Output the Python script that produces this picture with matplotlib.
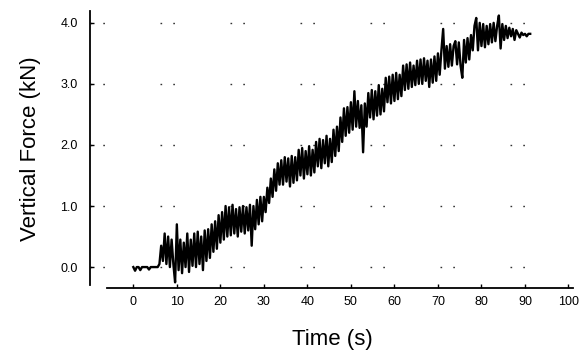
import matplotlib
matplotlib.use('Agg')
import matplotlib.pyplot as plt
import numpy as np

sample_dt = 0.4
force_kn = [
    0.00, -0.06, 0.00, 0.00, -0.05, 0.00, 0.00, 0.00, 0.00, -0.04, 0.00, 0.00, 0.00, 0.00, 0.00,
    0.05, 0.35, 0.10, 0.55, 0.05, 0.50, 0.00, 0.45, 0.05, -0.25,
    0.70, -0.05, 0.45, -0.10, 0.40, 0.00, 0.55, -0.08, 0.45, 0.02,
    0.55, 0.00, 0.58, 0.05, 0.50, -0.05, 0.60, 0.10, 0.62, 0.15,
    0.70, 0.25, 0.75, 0.30, 0.85, 0.40, 0.90, 0.45, 1.00, 0.50,
    0.98, 0.52, 1.02, 0.55, 0.95, 0.50, 0.98, 0.58, 1.00, 0.55,
    0.98, 0.60, 1.02, 0.35, 1.00, 0.62, 1.10, 0.70, 1.15, 0.75,
    1.15, 0.90, 1.30, 1.05, 1.45, 1.15, 1.60, 1.25, 1.70, 1.35,
    1.75, 1.35, 1.80, 1.40, 1.78, 1.32, 1.82, 1.38, 1.80, 1.42,
    1.92, 1.50, 1.95, 1.45, 1.90, 1.52, 1.98, 1.50, 1.92, 1.55,
    2.05, 1.65, 2.10, 1.62, 2.08, 1.70, 2.15, 1.65, 2.10, 1.72,
    2.25, 1.82, 2.30, 1.90, 2.45, 2.05, 2.60, 2.15, 2.62, 2.20,
    2.70, 2.25, 2.88, 2.30, 2.72, 2.28, 2.65, 1.88, 2.68, 2.30,
    2.85, 2.45, 2.90, 2.42, 2.88, 2.48, 2.98, 2.50, 2.92, 2.55,
    3.10, 2.70, 3.12, 2.68, 3.15, 2.72, 3.18, 2.75, 3.15, 2.80,
    3.30, 2.90, 3.32, 2.92, 3.35, 2.95, 3.30, 2.98, 3.38, 3.00,
    3.40, 3.00, 3.42, 3.05, 3.38, 2.95, 3.40, 3.02, 3.45, 3.05,
    3.50, 3.15, 3.55, 3.90, 3.25, 3.62, 3.28, 3.65, 3.30, 3.62,
    3.70, 3.32, 3.68, 3.30, 3.10, 3.72, 3.35, 3.75, 3.40, 3.80,
    3.55, 3.95, 4.08, 3.55, 4.00, 3.62, 3.98, 3.60, 3.95, 3.65,
    3.98, 3.68, 4.00, 3.70, 3.95, 4.12, 3.58, 3.98, 3.72, 3.95,
    3.75, 3.92, 3.78, 3.90, 3.72, 3.88, 3.82, 3.76, 3.84, 3.80,
    3.82, 3.78, 3.82, 3.82,
]
time_s = np.arange(len(force_kn)) * sample_dt

x_ticks = [0, 10, 20, 30, 40, 50, 60, 70, 80, 90, 100]
y_ticks = [0.0, 1.0, 2.0, 3.0, 4.0]
y_tick_labels = ['0.0', '1.0', '2.0', '3.0', '4.0']

plt.rcParams['font.family'] = ['Liberation Sans', 'DejaVu Sans']

fig = plt.figure(figsize=(5.86, 3.58), dpi=100)
ax = fig.add_axes([0.154, 0.196, 0.828, 0.776])

ax.plot(time_s, force_kn, color='black', linewidth=1.7)

ax.set_xlim(-9.9, 101.6)
ax.set_ylim(-0.34, 4.21)
ax.set_xticks(x_ticks)
ax.set_xticklabels([str(t) for t in x_ticks])
ax.set_yticks(y_ticks)
ax.set_yticklabels(y_tick_labels)

# sparse dotted horizontal grid (pairs of dots with long gaps)
ax.yaxis.grid(True, linestyle=(0, (1.2, 8, 1.2, 40)), color='#333333', linewidth=1.0)
ax.set_axisbelow(True)

for side in ['top', 'right']:
    ax.spines[side].set_visible(False)
ax.spines['bottom'].set_bounds(-6, 101)
ax.spines['left'].set_bounds(-0.3, 4.2)
for side in ['left', 'bottom']:
    ax.spines[side].set_linewidth(1.3)

ax.tick_params(axis='both', direction='in', length=3, width=1, labelsize=9)
ax.tick_params(axis='x', pad=6)
ax.tick_params(axis='y', pad=9)

ax.set_xlabel('Time (s)', fontsize=16, labelpad=15)
ax.set_ylabel('Vertical Force (kN)', fontsize=16, labelpad=14)

fig.savefig('out.png', dpi=100)
plt.close(fig)
